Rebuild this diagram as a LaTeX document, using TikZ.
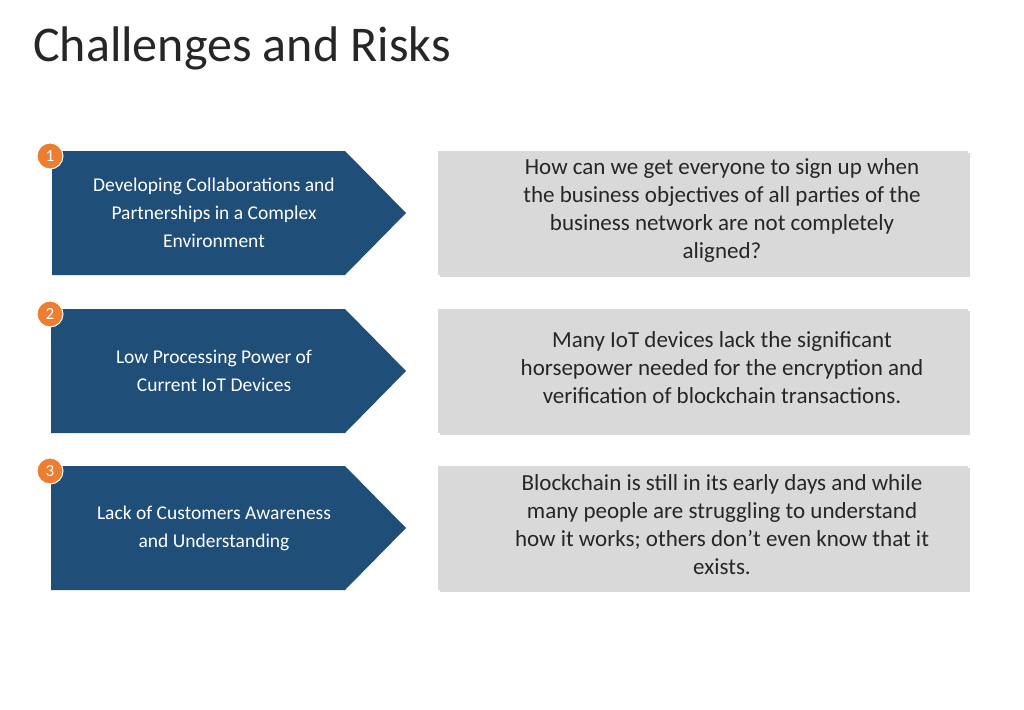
\documentclass[tikz,border=0pt]{standalone}
\usepackage{fontspec}
\setmainfont{Carlito}
\usetikzlibrary{calc}
\definecolor{navy}{HTML}{1F4E79}
\definecolor{boxgray}{HTML}{D9D9D9}
\definecolor{orng}{HTML}{ED7D31}
\tikzset{
 arrowlbl/.style={text=white,align=center,font=\fontsize{19.5}{28}\selectfont},
 graylbl/.style={align=center,font=\fontsize{23}{28}\selectfont,text=black!85},
 numc/.style={circle,fill=orng,draw=white,line width=1pt,minimum size=26pt,inner sep=0pt,text=white,font=\fontsize{17}{17}\selectfont}
}
\begin{document}
\begin{tikzpicture}[x=1pt,y=-1pt]
\useasboundingbox[fill=white] (0,0) rectangle (1024,709);
\node[anchor=base west,font=\fontsize{50}{50}\selectfont,text=black!85,inner sep=0] (title) at (33,62) {Challenges and Risks};
\foreach \i/\yt/\xl/\txt/\gtxt in {
 1/151/52/{Developing Collaborations and\\Partnerships in a Complex\\Environment}/{How can we get everyone to sign up when\\the business objectives of all parties of the\\business network are not completely\\aligned?},
 2/309/51/{Low Processing Power of\\Current IoT Devices}/{Many IoT devices lack the significant\\horsepower needed for the encryption and\\verification of blockchain transactions.},
 3/466/51/{Lack of Customers Awareness\\and Understanding}/{Blockchain is still in its early days and while\\many people are struggling to understand\\how it works; others don’t even know that it\\exists.}}{
 \fill[navy] (\xl,\yt) -- (345,\yt) -- (406,\yt+62) -- (345,\yt+124) -- (\xl,\yt+124) -- cycle;
 \node[arrowlbl] (a\i) at (214,\yt+62) {\txt};
 \fill[black!15] (440,\yt+2) rectangle (970,\yt+126);
 \fill[boxgray] (438,\yt) rectangle (968,\yt+124);
 \node[graylbl] (g\i) at (722,\yt+59) {\gtxt};
 \node[numc] (n\i) at (50,\yt+5) {\i};
}
\end{tikzpicture}
\end{document}
